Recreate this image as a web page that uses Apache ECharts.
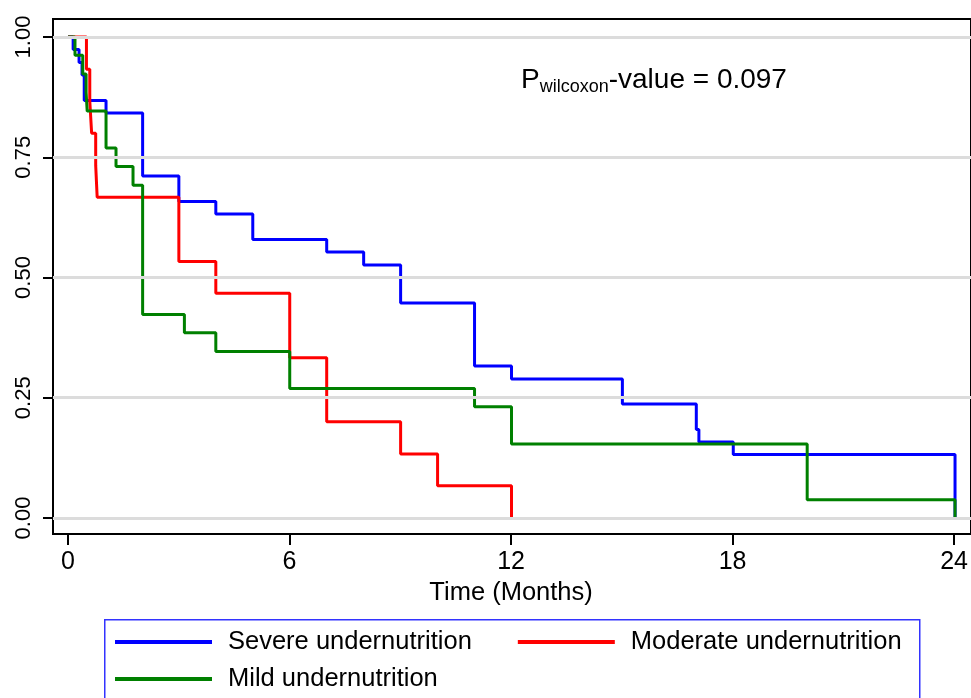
<!DOCTYPE html>
<html>
<head>
<meta charset="utf-8">
<script src="https://cdn.jsdelivr.net/npm/echarts@6/dist/echarts.min.js"></script>
<style>
    html, body { margin: 0; padding: 0; background: #fff; }
    #mountNode { width: 971px; height: 698px; }
</style>
</head>
<body>
<div id="mountNode"></div>
<script>
// survival curves, months vs. proportion surviving
const severeTime = [0, 0.14, 0.3, 0.38, 0.44, 1.03, 2.02, 3, 4, 5, 7, 8, 9, 11, 12, 15, 17, 17.07, 18, 24]
const severeSurv = [1, 0.974, 0.947, 0.921, 0.868, 0.842, 0.711, 0.658, 0.632, 0.579, 0.553, 0.526, 0.447, 0.316, 0.289, 0.237, 0.184, 0.158, 0.132, 0]

const moderateTime = [0, 0.5, 0.59, 0.64, 0.75, 0.79, 3, 4, 6, 7, 9, 10, 12]
const moderateSurv = [1, 0.933, 0.867, 0.8, 0.733, 0.667, 0.533, 0.467, 0.333, 0.2, 0.133, 0.067, 0]

const mildTime = [0, 0.19, 0.4, 0.49, 0.52, 1.03, 1.3, 1.76, 2.02, 3.15, 4, 6, 11, 12, 20, 24]
const mildSurv = [1, 0.962, 0.923, 0.885, 0.846, 0.769, 0.731, 0.692, 0.423, 0.385, 0.346, 0.269, 0.231, 0.154, 0.038, 0]

const yTicks = [0, 0.25, 0.5, 0.75, 1]

const names = ['Severe undernutrition', 'Moderate undernutrition', 'Mild undernutrition']
const colors = ['#0000ff', '#ff0000', '#008000']

const FONT = "'Liberation Sans', Arial, sans-serif"

const pairs = (t, s) => t.map((v, i) => [v, s[i]])

const curve = (name, t, s, color) => ({
    name: name,
    type: 'line',
    step: 'end',
    xAxisIndex: 0,
    yAxisIndex: 0,
    data: pairs(t, s),
    showSymbol: false,
    symbol: 'none',
    z: 3,
    color: color,
    lineStyle: { color: color, width: 3 }
})

const legendText = { fontSize: 25.5, fontFamily: FONT, color: '#000', padding: [0, 0, 0, 11] }

let myChart = echarts.init(document.getElementById('mountNode'), null, { renderer: 'canvas' })

const option = {
    animation: false,
    backgroundColor: '#fff',
    textStyle: { fontFamily: FONT, color: '#000' },
    title: {
        text: '{p|P}{s|wilcoxon}{p|-value = 0.097}',
        left: 516,
        top: 59,
        textStyle: {
            rich: {
                p: { fontSize: 28, fontFamily: FONT, fontWeight: 'normal', color: '#000', lineHeight: 32 },
                s: { fontSize: 18, fontFamily: FONT, fontWeight: 'normal', color: '#000', lineHeight: 32, verticalAlign: 'bottom' }
            }
        }
    },
    grid: [
        // plot frame, holds the curves
        {
            left: 53,
            right: -2,
            top: 19,
            bottom: 164,
            show: true,
            borderColor: '#000',
            borderWidth: 2,
            backgroundColor: 'transparent'
        },
        // data area 0..24 x 0..1, only for ticks and labels
        {
            left: 68,
            right: 14,
            top: 37,
            bottom: 180
        }
    ],
    legend: [
        {
            data: names.slice(0, 2),
            left: 115,
            top: 629,
            padding: 0,
            icon: 'rect',
            itemWidth: 97,
            itemHeight: 4,
            itemGap: 46,
            selectedMode: false,
            textStyle: legendText
        },
        {
            data: names.slice(2),
            left: 115,
            top: 666,
            padding: 0,
            icon: 'rect',
            itemWidth: 97,
            itemHeight: 4,
            selectedMode: false,
            textStyle: legendText
        }
    ],
    graphic: [
        {
            type: 'rect',
            left: 104,
            top: 619,
            shape: { width: 815, height: 100 },
            style: { fill: 'transparent', stroke: '#3333ff', lineWidth: 1.5 },
            z: 0
        }
    ],
    xAxis: [
        {
            type: 'value',
            gridIndex: 0,
            min: -0.405,
            max: 24.432,
            show: false,
            axisLine: { onZero: false },
            splitLine: { show: false }
        },
        {
            type: 'value',
            gridIndex: 1,
            position: 'bottom',
            offset: 16,
            min: 0,
            max: 24,
            interval: 6,
            name: 'Time (Months)',
            nameLocation: 'middle',
            nameGap: 45,
            nameTextStyle: { fontSize: 25.5, fontFamily: FONT, color: '#000' },
            axisLine: { show: false, onZero: false },
            splitLine: { show: false },
            axisTick: { show: true, inside: false, length: 11, lineStyle: { color: '#000', width: 2 } },
            axisLabel: { fontSize: 25, fontFamily: FONT, color: '#000', margin: 16, showMinLabel: true, showMaxLabel: true }
        }
    ],
    yAxis: [
        {
            type: 'value',
            gridIndex: 0,
            min: -0.0333,
            max: 1.0374,
            show: false,
            axisLine: { onZero: false },
            splitLine: { show: false }
        },
        {
            type: 'value',
            gridIndex: 1,
            position: 'left',
            offset: 15,
            min: 0,
            max: 1,
            interval: 0.25,
            axisLine: { show: false, onZero: false },
            splitLine: { show: false },
            axisTick: { show: true, inside: false, length: 10, lineStyle: { color: '#000', width: 2 } },
            axisLabel: {
                rotate: 90,
                fontSize: 22,
                fontFamily: FONT,
                color: '#000',
                margin: 18,
                showMinLabel: true,
                showMaxLabel: true,
                formatter: v => v.toFixed(2)
            }
        }
    ],
    series: [
        {
            name: 'gridlines',
            type: 'line',
            xAxisIndex: 0,
            yAxisIndex: 0,
            data: [],
            z: 1,
            silent: true,
            markLine: {
                silent: true,
                symbol: ['none', 'none'],
                label: { show: false },
                lineStyle: { color: '#dcdcdc', width: 3, type: 'solid' },
                data: yTicks.map(v => ({ yAxis: v }))
            }
        },
        curve(names[0], severeTime, severeSurv, colors[0]),
        curve(names[1], moderateTime, moderateSurv, colors[1]),
        curve(names[2], mildTime, mildSurv, colors[2])
    ]
}

myChart.setOption(option)
</script>
</body>
</html>
